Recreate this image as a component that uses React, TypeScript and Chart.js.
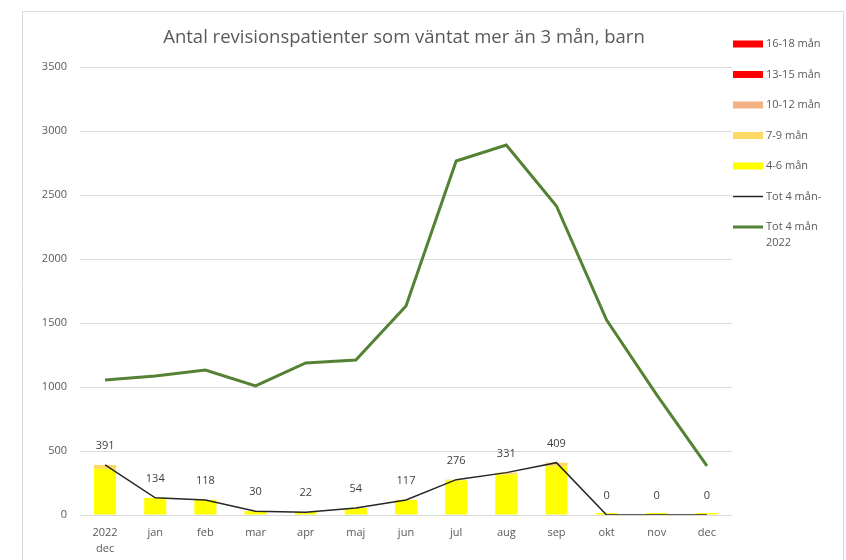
import React, { useEffect, useRef } from "react";
import { Chart, registerables } from "chart.js";

Chart.register(...registerables);

const categories: (string | string[])[] = [["2022", "dec"], "jan", "feb", "mar", "apr", "maj", "jun", "jul", "aug", "sep", "okt", "nov", "dec"];
const m4_6 = [360, 134, 118, 30, 22, 54, 117, 270, 315, 378, 0, 0, 0];
const m7_9 = [31, 0, 0, 0, 0, 0, 0, 6, 16, 31, 0, 0, 0];
const m10_12 = [0, 0, 0, 0, 0, 0, 0, 0, 0, 0, 0, 0, 0];
const m13_15 = [0, 0, 0, 0, 0, 0, 0, 0, 0, 0, 0, 0, 0];
const m16_18 = [0, 0, 0, 0, 0, 0, 0, 0, 0, 0, 0, 0, 0];
const tot4 = [391, 134, 118, 30, 22, 54, 117, 276, 331, 409, 0, 0, 0];
const tot4_2022 = [1055, 1086, 1133, 1008, 1188, 1211, 1633, 2766, 2891, 2414, 1523, 938, 383];
const yTicksMax = 3500;
const yTickStep = 500;

const titleText = "Antal revisionspatienter som väntat mer än 3 mån, barn";
const FONT = "'Open Sans', 'Noto Sans', sans-serif";
const TEXT = "#595959";

const frame = {
  id: "frame",
  beforeDraw(chart: any) {
    const ctx = chart.ctx;
    ctx.save();
    ctx.fillStyle = "#ffffff";
    ctx.fillRect(0, 0, chart.width, chart.height);
    ctx.strokeStyle = "#d9d9d9";
    ctx.lineWidth = 1;
    ctx.beginPath();
    ctx.moveTo(22.5, chart.height + 2);
    ctx.lineTo(22.5, 11.5);
    ctx.lineTo(843.5, 11.5);
    ctx.lineTo(843.5, chart.height + 2);
    ctx.stroke();
    ctx.restore();
  },
};

const titlePlugin = {
  id: "titleText",
  afterDraw(chart: any) {
    const ctx = chart.ctx;
    const a = chart.chartArea;
    ctx.save();
    ctx.font = `18.5px ${FONT}`;
    ctx.fillStyle = TEXT;
    ctx.textAlign = "center";
    ctx.textBaseline = "middle";
    ctx.fillText(titleText, (a.left + a.right) / 2 - 2, 38);
    ctx.restore();
  },
};

const valueLabels = {
  id: "valueLabels",
  afterDatasetsDraw(chart: any) {
    const idx = chart.data.datasets.findIndex((d: any) => d.label === "Tot 4 mån-");
    const meta = chart.getDatasetMeta(idx);
    const ctx = chart.ctx;
    ctx.save();
    ctx.font = `11px ${FONT}`;
    ctx.fillStyle = "#404040";
    ctx.textAlign = "center";
    ctx.textBaseline = "middle";
    meta.data.forEach((pt: any, i: number) => {
      ctx.fillText(String(chart.data.datasets[idx].data[i]), pt.x, pt.y - 19);
    });
    ctx.restore();
  },
};

const legendOrder = ["16-18 mån", "13-15 mån", "10-12 mån", "7-9 mån", "4-6 mån", "Tot 4 mån-", "Tot 4 mån 2022"];

const legendPlugin = {
  id: "sideLegend",
  afterDraw(chart: any) {
    const ctx = chart.ctx;
    const x0 = chart.chartArea.right + 1;
    const y0 = 44;
    const step = 30.5;
    ctx.save();
    ctx.font = `11px ${FONT}`;
    ctx.textBaseline = "middle";
    ctx.textAlign = "left";
    legendOrder.forEach((name, i) => {
      const ds = chart.data.datasets.find((d: any) => d.label === name);
      if (!ds) return;
      const y = y0 + i * step;
      if (ds.type === "line") {
        ctx.strokeStyle = ds.borderColor;
        ctx.lineWidth = ds.borderWidth;
        ctx.beginPath();
        ctx.moveTo(x0, y);
        ctx.lineTo(x0 + 30, y);
        ctx.stroke();
      } else {
        ctx.fillStyle = ds.backgroundColor;
        ctx.fillRect(x0, y - 3.5, 30, 7);
      }
      ctx.fillStyle = TEXT;
      const lines = name === "Tot 4 mån 2022" ? ["Tot 4 mån", "2022"] : [name];
      lines.forEach((t, j) => ctx.fillText(t, x0 + 33, y + j * 16));
    });
    ctx.restore();
  },
};

export default function App() {
  const ref = useRef<HTMLCanvasElement | null>(null);
  useEffect(() => {
    if (!ref.current) return;
    const barCommon = { type: "bar" as const, stack: "s", order: 2, categoryPercentage: 1, barPercentage: 0.44, borderWidth: 0 };
    const chart = new Chart(ref.current, {
      type: "bar",
      data: {
        labels: categories as any,
        datasets: [
          { ...barCommon, label: "4-6 mån", data: m4_6, backgroundColor: "#ffff00", minBarLength: 2 },
          { ...barCommon, label: "7-9 mån", data: m7_9, backgroundColor: "#ffd966" },
          { ...barCommon, label: "10-12 mån", data: m10_12, backgroundColor: "#f4b183" },
          { ...barCommon, label: "13-15 mån", data: m13_15, backgroundColor: "#ff0000" },
          { ...barCommon, label: "16-18 mån", data: m16_18, backgroundColor: "#ff0000" },
          { type: "line", label: "Tot 4 mån-", data: tot4, borderColor: "#262626", borderWidth: 1.5, pointRadius: 0, tension: 0, order: 0, stack: "l1" } as any,
          { type: "line", label: "Tot 4 mån 2022", data: tot4_2022, borderColor: "#548235", borderWidth: 3, pointRadius: 0, tension: 0, order: 1, stack: "l2" } as any,
        ],
      },
      options: {
        responsive: false,
        animation: false,
        layout: { padding: { left: 0, right: 114, top: 67, bottom: 0 } },
        plugins: { legend: { display: false }, title: { display: false }, tooltip: { enabled: false } },
        scales: {
          x: {
            stacked: true,
            grid: { display: false, drawTicks: false },
            border: { display: false },
            ticks: { color: TEXT, font: { family: FONT, size: 11, lineHeight: 1.45 }, padding: 10, maxRotation: 0, autoSkip: false },
            afterFit(scale: any) { scale.height = 45; },
          },
          y: {
            stacked: true,
            min: 0,
            max: yTicksMax,
            grid: { color: "#d9d9d9", drawTicks: false },
            border: { display: false },
            ticks: { stepSize: yTickStep, color: TEXT, font: { family: FONT, size: 11 }, padding: 13, callback: (v: any) => String(v) },
            afterFit(scale: any) { scale.width = 80; },
          },
        },
      },
      plugins: [frame, titlePlugin, valueLabels, legendPlugin],
    });
    return () => chart.destroy();
  }, []);
  return (
    <canvas ref={ref} width={846} height={560} style={{ position: "absolute", left: 0, top: 0, width: 846, height: 560 }} />
  );
}
